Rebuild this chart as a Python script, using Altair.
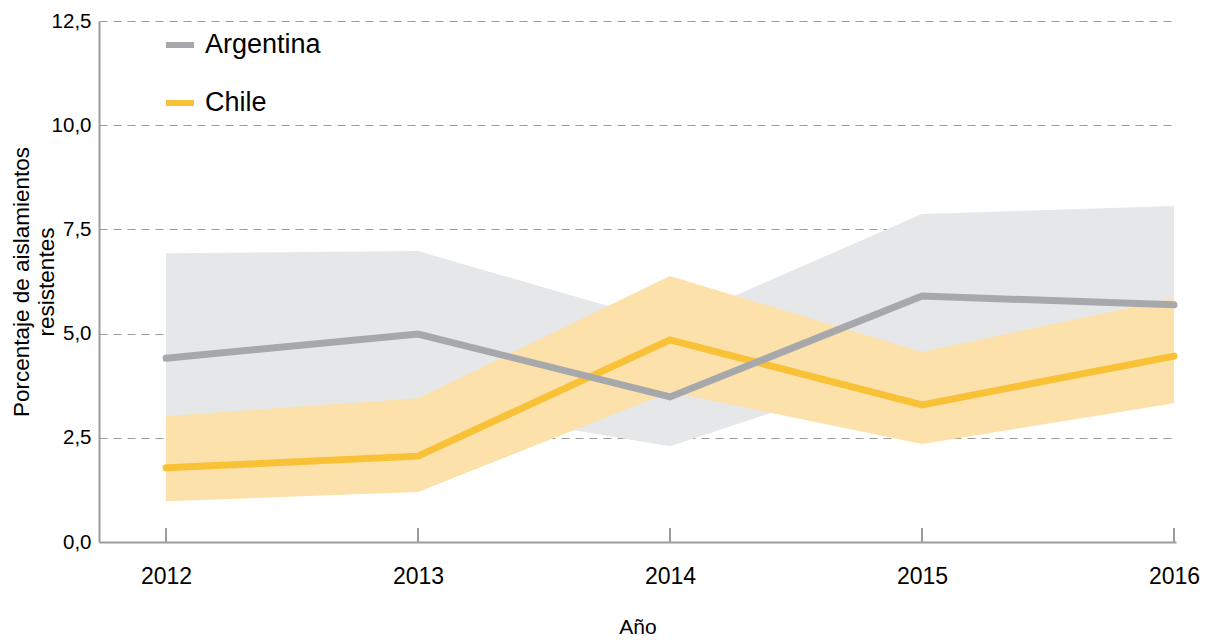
import altair as alt
import pandas as pd

years = [2012, 2013, 2014, 2015, 2016]
countries = ["Argentina", "Chile"]

arg_value = [4.41, 4.99, 3.48, 5.90, 5.69]
arg_low = [2.66, 3.30, 2.30, 4.29, 4.10]
arg_high = [6.93, 6.98, 5.23, 7.87, 8.06]

chl_value = [1.78, 2.06, 4.85, 3.29, 4.46]
chl_low = [0.98, 1.20, 3.60, 2.35, 3.33]
chl_high = [3.02, 3.45, 6.38, 4.56, 5.85]

line_colors = ["#A7A8AB", "#F8C136"]
band_colors = ["#E6E7E8", "#FCE1AB"]

df = pd.concat([
    pd.DataFrame({"year": years, "country": "Argentina", "value": arg_value, "low": arg_low, "high": arg_high}),
    pd.DataFrame({"year": years, "country": "Chile", "value": chl_value, "low": chl_low, "high": chl_high}),
])

W, H = 1077, 521
FONT = "Liberation Sans"

x = alt.X("year:Q",
          scale=alt.Scale(domain=[2011.734, 2016.008], nice=False, zero=False),
          axis=alt.Axis(values=years, format="d", title="Año", grid=False,
                        ticks=False, labelFontSize=23, labelPadding=23,
                        titleFontSize=21, titleFontWeight="normal", titlePadding=28,
                        domainColor="#9B9B9B", domainWidth=2,
                        labelColor="#000000", titleColor="#000000",
                        labelFont=FONT, titleFont=FONT))
y = alt.Y("low:Q",
          scale=alt.Scale(domain=[0, 12.5], nice=False),
          axis=alt.Axis(values=[0, 2.5, 5, 7.5, 10, 12.5],
                        labelExpr="replace(format(datum.value, '.1f'), '.', ',')",
                        title=["Porcentaje de aislamientos", "resistentes"],
                        grid=True, gridDash=[8, 6], gridColor="#9B9B9B", gridWidth=1.2,
                        ticks=False, labelFontSize=20.5, labelPadding=8,
                        titleFontSize=22.5, titleFontWeight="normal", titlePadding=-7,
                        domainColor="#9B9B9B", domainWidth=2,
                        labelColor="#000000", titleColor="#000000",
                        labelFont=FONT, titleFont=FONT))

base = alt.Chart(df)

bands = []
for c, col in zip(countries, band_colors):
    bands.append(base.transform_filter(alt.datum.country == c).mark_area(
        color=col, opacity=1, interpolate="linear").encode(x=x, y=y, y2="high:Q"))

line_color = alt.Color("country:N",
                       scale=alt.Scale(domain=countries, range=line_colors),
                       legend=alt.Legend(title=None, orient="none", legendX=64, legendY=7,
                                         symbolType="stroke", symbolSize=784,
                                         symbolStrokeWidth=6, labelFontSize=27,
                                         labelFont=FONT, labelColor="#000000",
                                         rowPadding=28, labelOffset=8))

lines = []
for c in ["Chile", "Argentina"]:
    lines.append(base.transform_filter(alt.datum.country == c).mark_line(
        strokeWidth=7, strokeCap="round", strokeJoin="miter").encode(
        x=alt.X("year:Q"), y=alt.Y("value:Q"), color=line_color))

ticks = alt.Chart(pd.DataFrame({"year": years})).mark_rule(
    color="#9B9B9B", strokeWidth=2).encode(
    x=alt.X("year:Q"), y=alt.value(H - 14), y2=alt.value(H))

chart = alt.layer(*bands, *lines, ticks).properties(
    width=W, height=H,
    padding={"left": 2, "top": 3, "right": 0, "bottom": 0}
).configure_view(stroke=None)

chart.save("out.html", embed_options={"renderer": "svg", "actions": False})
